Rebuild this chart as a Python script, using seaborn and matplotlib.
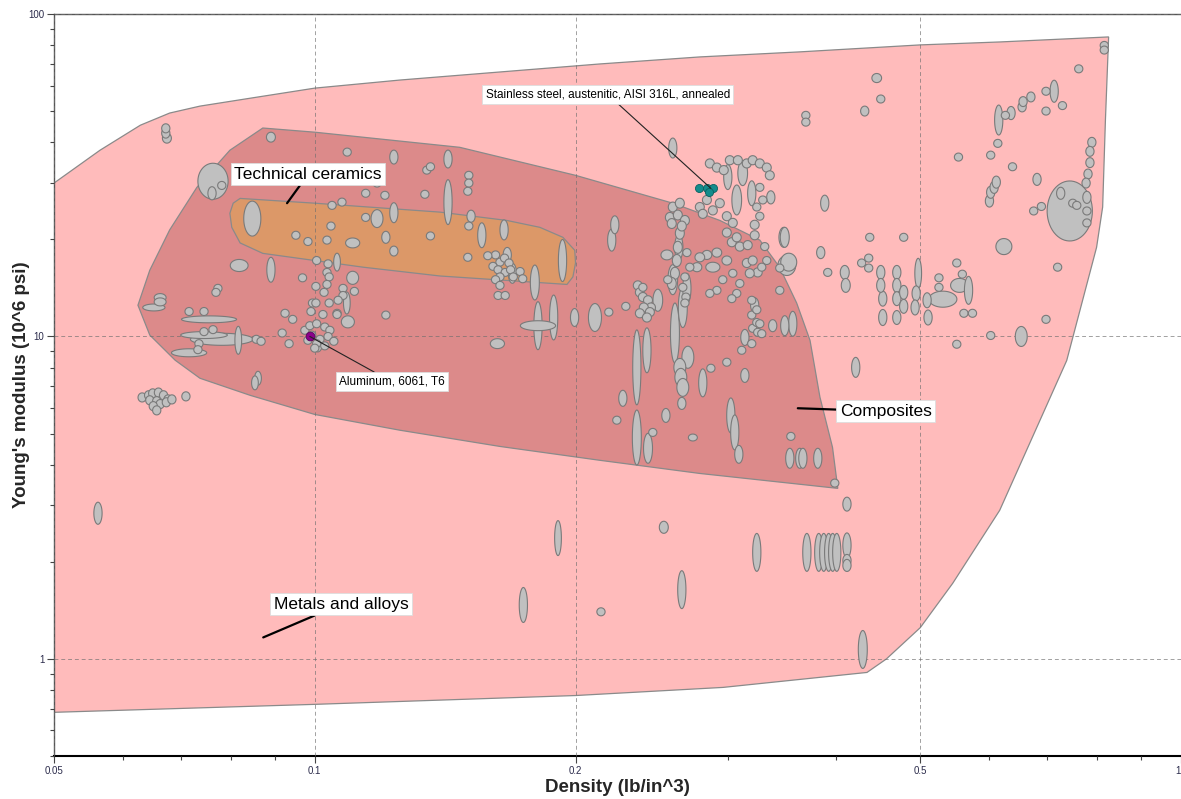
import numpy as np
import matplotlib
matplotlib.use("Agg")
import matplotlib.pyplot as plt
import seaborn as sns
from matplotlib.ticker import FixedLocator, FixedFormatter, LogLocator, NullFormatter

# ==== envelopes: (density lb/in^3, Young's modulus 10^6 psi) ====
metals_envelope = [
    (0.05, 29.9), (0.0565, 37.8), (0.0629, 45.2), (0.068, 49.3), (0.0737, 51.8),
    (0.0842, 54.8), (0.1, 58.9), (0.1254, 62.4), (0.1636, 66.1), (0.2134, 70.0),
    (0.2783, 73.6), (0.363, 76.3), (0.5, 80.2), (0.6176, 81.9), (0.825, 84.9),
    (0.818, 46.9), (0.812, 25.2), (0.799, 18.9), (0.738, 8.42), (0.6176, 2.89),
    (0.545, 1.715), (0.5, 1.25), (0.457, 1.0), (0.434, 0.908), (0.296, 0.816),
    (0.2, 0.77), (0.1, 0.723), (0.05, 0.683),
]
composites_envelope = [
    (0.0625, 12.5), (0.0645, 16.05), (0.068, 21.4), (0.0731, 29.0), (0.0798, 37.8),
    (0.0871, 44.3), (0.1, 43.0), (0.147, 38.6), (0.2, 31.6), (0.259, 25.9),
    (0.2935, 22.9), (0.3264, 19.9), (0.344, 16.4), (0.36, 12.7), (0.373, 9.73),
    (0.383, 6.48), (0.396, 4.53), (0.4016, 3.38), (0.2783, 3.76), (0.2134, 4.13),
    (0.1636, 4.56), (0.1254, 5.12), (0.1, 5.73), (0.0842, 6.57), (0.0737, 7.42),
    (0.069, 8.44), (0.0645, 10.1),
]
ceramics_envelope = [
    (0.082, 26.8), (0.1, 25.9), (0.1395, 24.3), (0.1666, 22.9), (0.1819, 21.8),
    (0.1934, 20.3), (0.1996, 18.5), (0.2, 16.9), (0.1986, 15.3), (0.1955, 14.5),
    (0.1395, 15.4), (0.1137, 16.4), (0.0871, 18.1), (0.082, 19.5), (0.0802, 21.8),
    (0.0798, 24.1), (0.0805, 25.9),
]

# ==== materials: (density, modulus, density spread %, modulus spread %) ====
tech_ceramics = [
    (0.0673, 44.2, 1.1, 3.3), (0.0673, 42.7, 1.1, 3.6), (0.0675, 41.2, 1.2, 3.6),
    (0.0763, 30.3, 4.1, 13.7), (0.0761, 27.8, 1.1, 4.8), (0.0781, 29.4, 1.1, 2.9),
    (0.0847, 23.2, 2.3, 13.3), (0.089, 41.5, 1.2, 3.6), (0.109, 37.3, 1.1, 2.9),
    (0.1234, 36.0, 1.1, 5.1), (0.1425, 35.5, 1.1, 6.6), (0.1347, 32.8, 1.1, 2.9),
    (0.136, 33.6, 1.1, 2.9), (0.118, 29.9, 1.1, 2.9), (0.1425, 26.1, 1.1, 17.4),
    (0.1145, 27.8, 1.1, 2.9), (0.1205, 27.4, 1.1, 2.9), (0.134, 27.6, 1.1, 2.9),
    (0.1075, 26.1, 1.1, 2.9), (0.1047, 25.5, 1.1, 2.9), (0.1234, 24.2, 1.1, 7.4),
    (0.118, 23.2, 1.6, 6.6), (0.1145, 23.4, 1.1, 2.9), (0.1044, 22.0, 1.1, 2.9),
    (0.0951, 20.6, 1.1, 2.9), (0.0982, 19.7, 1.1, 2.9), (0.1033, 19.9, 1.1, 2.9),
    (0.1106, 19.5, 1.9, 3.6), (0.1208, 20.3, 1.1, 4.4), (0.1234, 18.4, 1.1, 3.6),
    (0.136, 20.5, 1.1, 2.9), (0.1506, 31.6, 1.1, 2.9), (0.1506, 29.9, 1.1, 2.9),
    (0.1502, 28.2, 1.1, 2.9), (0.1515, 23.6, 1.1, 4.4), (0.1506, 22.0, 1.1, 2.9),
    (0.1559, 20.6, 1.1, 9.3), (0.1654, 21.4, 1.1, 7.4), (0.1502, 17.6, 1.1, 2.9),
    (0.1932, 17.2, 1.1, 16.2), (0.0818, 16.6, 2.4, 4.4), (0.089, 16.1, 1.1, 9.3),
]
glasses = [
    (0.1617, 17.9, 1.1, 2.9), (0.1636, 17.0, 1.1, 2.9), (0.1656, 17.5, 1.1, 2.9),
    (0.1676, 16.9, 1.1, 2.9), (0.1606, 16.5, 1.1, 2.9), (0.1628, 16.1, 1.1, 2.9),
    (0.1659, 15.8, 1.1, 2.9), (0.1683, 16.1, 1.1, 2.9), (0.1636, 15.3, 1.1, 2.9),
    (0.1695, 15.3, 1.1, 2.9), (0.1617, 15.0, 1.1, 2.9), (0.1584, 17.8, 1.1, 2.9),
    (0.1668, 17.9, 1.1, 5.5), (0.1691, 15.7, 1.1, 7.4), (0.1726, 15.9, 1.1, 2.9),
    (0.1738, 15.1, 1.1, 2.9), (0.1795, 14.7, 1.2, 13.3), (0.1636, 14.4, 1.1, 2.9),
    (0.1628, 13.4, 1.1, 2.9), (0.1659, 13.4, 1.1, 2.9),
]
aluminum_alloys = [
    (0.1005, 17.2, 1.1, 2.9), (0.1061, 17.0, 0.9, 6.6), (0.1036, 16.8, 1.1, 2.9),
    (0.1033, 15.8, 1.1, 2.9), (0.1039, 15.3, 1.1, 2.9), (0.1033, 14.5, 1.1, 2.9),
    (0.1025, 13.7, 1.1, 2.9), (0.1003, 14.3, 1.1, 2.9), (0.0994, 12.7, 1.1, 2.9),
    (0.1078, 14.1, 1.1, 2.9), (0.1111, 13.8, 1.1, 2.9), (0.1078, 13.4, 1.1, 2.9),
    (0.1064, 12.95, 1.1, 2.9), (0.1039, 12.7, 1.1, 2.9), (0.1061, 11.8, 1.1, 2.9),
    (0.1089, 12.7, 0.9, 8.2), (0.1106, 15.2, 1.6, 4.8), (0.0968, 15.2, 1.1, 2.9),
    (0.0974, 10.45, 1.1, 2.9), (0.0987, 10.8, 1.1, 2.9), (0.1005, 10.95, 1.1, 2.9),
    (0.1027, 10.7, 1.1, 2.9), (0.1041, 10.45, 1.1, 2.9), (0.0992, 10.1, 1.1, 2.9),
    (0.1014, 9.8, 1.1, 2.9), (0.1036, 10.0, 1.1, 2.9), (0.1052, 9.66, 1.1, 2.9),
    (0.1005, 9.5, 1.1, 2.9), (0.0982, 9.73, 1.1, 2.9), (0.1027, 9.35, 1.1, 2.9),
    (0.1, 9.2, 1.1, 2.9), (0.1008, 9.35, 1.1, 4.4), (0.1092, 11.1, 1.75, 4.4),
    (0.1061, 11.7, 1.1, 2.9), (0.1022, 11.7, 1.1, 2.9), (0.099, 11.95, 1.1, 2.9),
    (0.1003, 12.7, 1.1, 2.9), (0.1208, 11.65, 1.1, 2.9), (0.0924, 11.8, 1.1, 2.9),
    (0.0943, 11.3, 1.1, 2.9), (0.0917, 10.25, 1.1, 2.9), (0.0934, 9.5, 1.1, 2.9),
]
light_alloys = [
    (0.0773, 14.1, 1.1, 2.9), (0.0769, 13.7, 1.1, 2.9), (0.0663, 13.2, 1.6, 2.9),
    (0.0663, 12.8, 1.6, 2.9), (0.0652, 12.3, 3.0, 2.5), (0.0716, 11.95, 1.1, 2.9),
    (0.0745, 11.95, 1.1, 2.9), (0.0755, 11.3, 7.6, 2.5), (0.0745, 10.35, 1.1, 2.9),
    (0.0763, 10.5, 1.1, 2.9), (0.0745, 10.1, 6.4, 2.5), (0.0781, 9.8, 8.7, 4.4),
    (0.0816, 9.73, 0.9, 10.5), (0.0856, 9.8, 1.1, 2.9), (0.0867, 9.66, 1.1, 2.9),
    (0.0735, 9.5, 1.1, 2.9), (0.0733, 9.1, 1.1, 2.9), (0.0716, 8.9, 4.8, 2.9),
    (0.086, 7.42, 0.9, 5.1), (0.0853, 7.18, 0.9, 5.1),
]
beryllium_alloys = [
    (0.0632, 6.47, 1.1, 3.3), (0.0643, 6.57, 1.1, 3.3), (0.065, 6.66, 1.1, 3.3),
    (0.066, 6.70, 1.1, 3.3), (0.0669, 6.57, 1.1, 3.3), (0.0677, 6.38, 1.1, 3.3),
    (0.0645, 6.34, 1.1, 3.3), (0.0657, 6.30, 1.1, 3.3), (0.0663, 6.17, 1.1, 3.3),
    (0.0651, 6.08, 1.1, 3.3), (0.0657, 5.90, 1.1, 3.3), (0.0674, 6.25, 1.1, 3.3),
    (0.0684, 6.38, 1.1, 3.3), (0.071, 6.52, 1.1, 3.3),
]
low_modulus = [
    (0.0562, 2.83, 1.1, 8.2), (0.1909, 2.37, 0.9, 13.3), (0.1741, 1.47, 1.1, 13.3),
    (0.214, 1.40, 1.1, 2.9), (0.2529, 2.56, 1.2, 4.4), (0.3238, 2.14, 1.1, 14.5),
    (0.3699, 2.14, 1.1, 14.5), (0.3818, 2.14, 1.1, 14.5), (0.3869, 2.14, 1.1, 14.5),
    (0.392, 2.14, 1.1, 14.5), (0.3962, 2.14, 1.1, 14.5), (0.4005, 2.14, 1.1, 14.5),
    (0.4115, 2.25, 1.1, 9.3), (0.4115, 2.02, 1.1, 4.4), (0.4115, 1.95, 1.1, 4.4),
    (0.2653, 1.64, 1.1, 14.5), (0.4292, 1.07, 1.2, 14.5), (0.4115, 3.02, 1.1, 5.1),
]
mid_composites = [
    (0.181, 10.8, 4.8, 3.6), (0.181, 10.8, 1.1, 18.7), (0.1887, 11.45, 1.1, 17.4),
    (0.1995, 11.45, 1.1, 6.6), (0.2106, 11.45, 1.75, 10.5), (0.2185, 11.9, 1.1, 2.9),
    (0.1625, 9.5, 1.9, 3.6), (0.222, 22.2, 1.1, 6.6), (0.2202, 19.9, 1.1, 8.2),
    (0.2286, 12.4, 1.1, 2.9), (0.2354, 8.02, 1.1, 30.7), (0.2354, 4.86, 1.2, 21.7),
    (0.2418, 9.06, 1.1, 17.4), (0.2425, 4.5, 1.2, 11.3), (0.2268, 6.43, 1.1, 5.9),
    (0.2232, 5.5, 1.1, 2.9), (0.236, 14.4, 1.2, 3.3), (0.2373, 13.7, 1.2, 3.3),
    (0.2392, 13.25, 1.2, 3.3), (0.2425, 12.95, 1.2, 3.3), (0.2444, 12.3, 1.2, 3.3),
    (0.2398, 12.3, 1.2, 3.3), (0.2437, 11.9, 1.2, 3.3), (0.2373, 11.8, 1.2, 3.3),
    (0.2418, 11.45, 1.2, 3.3), (0.2489, 12.95, 1.3, 8.2), (0.259, 15.0, 1.3, 11.3),
    (0.2605, 10.25, 1.2, 23.9), (0.2632, 18.9, 1.1, 9.3), (0.266, 12.3, 1.2, 15.4),
    (0.255, 17.9, 1.6, 3.6), (0.2689, 14.1, 1.1, 11.3), (0.2682, 13.25, 1.1, 2.9),
    (0.2675, 12.7, 1.1, 2.9), (0.2696, 8.62, 1.6, 8.2), (0.2639, 8.02, 1.6, 6.6),
    (0.2646, 7.47, 1.6, 6.6), (0.266, 6.95, 1.6, 6.6), (0.2653, 6.2, 1.1, 4.4),
    (0.2805, 7.18, 1.1, 10.5), (0.2866, 7.97, 1.1, 2.9), (0.2543, 5.69, 1.1, 5.1),
    (0.2732, 4.86, 1.2, 2.5), (0.2456, 5.04, 1.1, 2.9), (0.3022, 5.69, 1.1, 13.3),
    (0.3054, 5.04, 1.1, 13.3), (0.3087, 4.31, 1.1, 6.6), (0.299, 8.32, 1.1, 2.9),
    (0.3137, 7.57, 1.1, 5.1), (0.3111, 9.06, 1.1, 2.9), (0.3195, 9.5, 1.1, 2.9),
    (0.3137, 9.93, 1.1, 5.9), (0.3203, 10.6, 1.1, 2.9), (0.3246, 10.3, 1.1, 2.9),
    (0.3281, 10.2, 1.1, 2.9), (0.3238, 11.05, 1.1, 2.9), (0.322, 12.5, 1.1, 5.5),
    (0.3195, 11.65, 1.1, 2.9), (0.3378, 10.8, 1.1, 4.4), (0.3488, 10.8, 1.1, 7.4),
    (0.3563, 10.95, 1.1, 9.3), (0.3442, 13.9, 1.1, 2.9), (0.3545, 4.9, 1.1, 2.9),
    (0.3535, 4.19, 1.1, 7.4), (0.363, 4.19, 1.1, 7.4), (0.366, 4.19, 1.1, 7.4),
    (0.3808, 4.19, 1.1, 7.4), (0.3984, 3.51, 1.1, 2.9), (0.4212, 8.02, 1.1, 7.4),
]
steels = [
    (0.259, 38.4, 1.1, 7.4), (0.2858, 34.4, 1.2, 3.3), (0.2912, 33.4, 1.2, 3.3),
    (0.2966, 32.8, 1.2, 3.3), (0.3014, 35.2, 1.2, 3.3), (0.3079, 35.2, 1.2, 3.3),
    (0.3153, 34.4, 1.2, 3.3), (0.3203, 35.2, 1.2, 3.3), (0.3264, 34.4, 1.2, 3.3),
    (0.3325, 33.4, 1.2, 3.3), (0.3352, 31.6, 1.2, 3.3), (0.2998, 31.2, 1.1, 9.3),
    (0.3119, 32.1, 1.3, 9.3), (0.307, 26.5, 1.3, 11.3), (0.3195, 27.8, 1.1, 9.3),
    (0.2836, 26.5, 1.2, 3.3), (0.2783, 25.2, 1.2, 3.3), (0.2805, 24.0, 1.2, 3.3),
    (0.2881, 24.6, 1.2, 3.3), (0.2935, 25.9, 1.2, 3.3), (0.259, 25.2, 1.2, 3.6),
    (0.2639, 25.9, 1.2, 3.6), (0.257, 23.4, 1.2, 3.6), (0.2625, 23.8, 1.2, 3.6),
    (0.2675, 22.9, 1.2, 3.6), (0.2583, 22.4, 1.2, 3.6), (0.2653, 22.0, 1.2, 3.6),
    (0.3264, 29.0, 1.1, 2.9), (0.329, 26.5, 1.1, 2.9), (0.3238, 25.2, 1.1, 2.9),
    (0.3264, 23.6, 1.1, 2.9), (0.3361, 27.0, 1.1, 4.8), (0.299, 23.6, 1.2, 3.3),
    (0.3038, 22.5, 1.2, 3.3), (0.299, 21.0, 1.2, 3.3), (0.303, 19.6, 1.2, 3.3),
    (0.307, 20.3, 1.2, 3.3), (0.3095, 19.0, 1.2, 3.3), (0.3161, 19.2, 1.2, 3.3),
    (0.322, 20.6, 1.2, 3.3), (0.322, 22.2, 1.2, 3.3), (0.3153, 16.9, 1.2, 3.3),
    (0.3203, 17.2, 1.2, 3.3), (0.3246, 15.8, 1.2, 3.3), (0.3178, 15.7, 1.2, 3.3),
    (0.299, 17.2, 1.3, 3.3), (0.2912, 18.2, 1.3, 3.3), (0.2836, 17.9, 1.3, 3.3),
    (0.2783, 17.6, 1.3, 3.3), (0.2762, 16.4, 1.3, 3.3), (0.2639, 20.9, 1.2, 4.4),
    (0.2625, 18.9, 1.2, 4.4), (0.2618, 17.2, 1.2, 4.4), (0.2605, 15.7, 1.2, 4.4),
    (0.2583, 14.6, 1.2, 4.4), (0.2689, 18.2, 1.1, 2.9), (0.271, 16.4, 1.1, 2.9),
    (0.2675, 15.3, 1.1, 2.9), (0.266, 14.2, 1.1, 2.9), (0.2556, 15.0, 1.1, 2.9),
    (0.2392, 14.2, 1.1, 2.9), (0.3038, 15.7, 1.1, 2.9), (0.2958, 15.0, 1.1, 2.9),
    (0.2912, 13.9, 1.1, 2.9), (0.2858, 13.6, 1.1, 2.9), (0.3095, 14.6, 1.1, 2.9),
    (0.307, 13.6, 1.1, 2.9), (0.303, 13.1, 1.1, 2.9), (0.2881, 16.4, 1.9, 3.6),
    (0.3195, 12.95, 1.1, 2.9), (0.3238, 12.1, 1.1, 2.9), (0.3264, 10.95, 1.1, 2.9),
    (0.3479, 20.3, 1.3, 7.4), (0.3525, 17.0, 2.15, 6.6), (0.3442, 16.3, 1.1, 2.9),
    (0.3307, 19.0, 1.1, 2.9), (0.3325, 17.2, 1.1, 2.9), (0.3281, 16.4, 1.1, 2.9),
]
heavy_metals = [
    (0.4454, 63.3, 1.3, 3.3), (0.4502, 54.5, 1.1, 2.9), (0.4314, 50.0, 1.1, 3.6),
    (0.3689, 48.5, 1.1, 2.9), (0.3689, 46.2, 1.1, 2.9), (0.3879, 25.9, 1.1, 5.9),
    (0.3488, 20.3, 1.2, 7.4), (0.3507, 16.6, 2.4, 7.4), (0.3838, 18.2, 1.1, 4.4),
    (0.391, 15.8, 1.1, 2.9), (0.4091, 15.8, 1.2, 5.1), (0.4102, 14.4, 1.2, 5.1),
    (0.4279, 16.9, 1.1, 2.9), (0.436, 17.5, 1.1, 2.9), (0.436, 16.3, 1.1, 2.9),
    (0.4372, 20.3, 1.1, 2.9), (0.4785, 20.3, 1.1, 2.9), (0.4502, 15.8, 1.1, 5.1),
    (0.4502, 14.4, 1.1, 5.1), (0.4526, 13.1, 1.1, 5.5), (0.4526, 11.45, 1.1, 5.9),
    (0.4698, 15.8, 1.1, 5.1), (0.4698, 14.4, 1.1, 5.1), (0.4698, 13.1, 1.1, 5.1),
    (0.4698, 11.45, 1.1, 5.1), (0.4785, 13.7, 1.1, 5.1), (0.4785, 12.4, 1.1, 5.1),
    (0.4973, 15.7, 0.9, 11.3), (0.4946, 13.6, 1.1, 5.5), (0.4932, 12.3, 1.1, 5.5),
    (0.5092, 12.95, 1.1, 5.5), (0.5105, 11.45, 1.1, 5.5), (0.531, 13.05, 3.8, 5.9),
    (0.5255, 15.2, 1.1, 2.9), (0.5255, 14.2, 1.1, 2.9), (0.555, 14.4, 2.4, 5.1),
    (0.5685, 13.9, 1.1, 10.5), (0.5615, 11.8, 1.1, 2.9), (0.5745, 11.8, 1.1, 2.9),
    (0.551, 16.9, 1.1, 2.9), (0.5592, 15.6, 1.1, 2.9), (0.551, 9.46, 1.1, 2.9),
    (0.603, 10.07, 1.1, 2.9), (0.654, 10.0, 1.6, 7.4), (0.6245, 19.0, 2.15, 5.9),
    (0.6985, 11.3, 1.1, 2.9), (0.7204, 16.4, 1.1, 2.9), (0.744, 24.5, 6.2, 23.9),
    (0.7263, 27.8, 1.1, 4.4), (0.75, 25.9, 1.1, 2.9), (0.758, 25.5, 1.1, 2.9),
    (0.7787, 27.0, 1.1, 4.4), (0.7787, 24.5, 1.1, 2.9), (0.7787, 22.5, 1.1, 2.9),
    (0.789, 40.0, 1.1, 3.6), (0.785, 37.5, 1.1, 3.6), (0.785, 34.6, 1.1, 3.6),
    (0.781, 31.9, 1.1, 3.6), (0.777, 29.9, 1.1, 3.6), (0.676, 24.5, 1.1, 2.9),
    (0.69, 25.3, 1.1, 2.9), (0.601, 26.3, 1.1, 4.4), (0.603, 28.0, 1.1, 4.4),
    (0.6085, 29.0, 1.1, 4.4), (0.612, 30.1, 1.1, 4.4), (0.682, 30.7, 1.1, 4.4),
    (0.639, 33.6, 1.1, 2.9), (0.603, 36.5, 1.1, 2.9), (0.5535, 36.0, 1.1, 2.9),
    (0.616, 46.9, 1.1, 11.3), (0.6145, 39.7, 1.1, 2.9), (0.627, 48.5, 1.1, 2.9),
    (0.6365, 49.3, 1.1, 4.8), (0.6555, 51.5, 1.1, 3.6), (0.6572, 53.5, 1.1, 3.6),
    (0.671, 55.3, 1.1, 3.6), (0.6985, 57.6, 1.1, 2.9), (0.7138, 57.6, 1.1, 8.2),
    (0.6985, 50.0, 1.1, 2.9), (0.7297, 52.0, 1.1, 2.9), (0.762, 67.6, 1.1, 2.9),
    (0.8155, 79.9, 1.1, 2.9), (0.8155, 77.3, 1.1, 2.9),
]

# highlighted records
al_6061_rho = [0.0987]
al_6061_E = [10.0]
ss_316l_rho = [0.2776, 0.2836, 0.2881, 0.2851]
ss_316l_E = [28.8, 28.8, 28.8, 28.0]

# label texts and where they sit
envelope_labels = [
    ("Technical ceramics", (0.0929, 25.9), (0.0982, 31.8)),
    ("Composites", (0.3611, 5.99), (0.4563, 5.86)),
    ("Metals and alloys", (0.0872, 1.166), (0.1072, 1.477)),
]
record_labels = [
    ("Aluminum, 6061, T6", (0.0987, 10.0), (0.1228, 7.23)),
    ("Stainless steel, austenitic, AISI 316L, annealed", (0.2866, 28.8), (0.2179, 56.3)),
]

sns.set_theme(style="white")
plt.rcParams["font.family"] = ["Liberation Sans", "DejaVu Sans"]

fig = plt.figure(figsize=(11.81, 7.99), dpi=100)
ax = fig.add_axes([54 / 1181, 43 / 799, 1 - 54 / 1181, 742 / 799])
ax.set_xscale("log")
ax.set_yscale("log")
ax.set_xlim(0.05, 1.0)
ax.set_ylim(0.5, 100)


def draw_envelope(pts, fc, z):
    r, e = zip(*pts)
    ax.fill(r, e, facecolor=fc, edgecolor="#8a8a8a", lw=0.9, zorder=z)


def draw_bubble(rho, E, pr, pe):
    t = np.linspace(0, 2 * np.pi, 60)
    lx = np.log10(rho) + np.log10(1 + pr / 100) * np.cos(t)
    ly = np.log10(E) + np.log10(1 + pe / 100) * np.sin(t)
    ax.fill(10 ** lx, 10 ** ly, facecolor="#c0c0c0", edgecolor="#7a7a7a", lw=0.8, zorder=3)


draw_envelope(metals_envelope, "#ffbbbb", 1.0)
draw_envelope(composites_envelope, "#dc8a8a", 1.1)
draw_envelope(ceramics_envelope, "#dc9868", 1.2)

materials = (tech_ceramics + glasses + aluminum_alloys + light_alloys + beryllium_alloys
             + low_modulus + mid_composites + steels + heavy_metals)
# big bubbles first so the small ones stay visible
materials = sorted(materials, key=lambda m: -np.log1p(m[2] / 100) * np.log1p(m[3] / 100))
for m in materials:
    draw_bubble(*m)

sns.scatterplot(x=al_6061_rho, y=al_6061_E, color="#8b008b", s=40, edgecolor="#5a005a",
                linewidth=0.6, zorder=4, ax=ax, legend=False)
sns.scatterplot(x=ss_316l_rho, y=ss_316l_E, color="#138c8c", s=34, edgecolor="#0b6060",
                linewidth=0.6, zorder=4, ax=ax, legend=False)

# grid
ax.set_axisbelow(False)
ax.grid(True, which="major", ls=(0, (4, 3)), color="#6e6e6e", lw=0.7, alpha=0.65)

for txt, pt, pos in envelope_labels:
    ax.annotate(txt, xy=pt, xytext=pos, textcoords="data", ha="center", va="center",
                fontsize=12.5, color="black", zorder=6,
                bbox=dict(boxstyle="square,pad=0.2", fc="white", ec="#dddddd", lw=0.6),
                arrowprops=dict(arrowstyle="-", color="black", lw=1.6, shrinkA=0, shrinkB=0))
for txt, pt, pos in record_labels:
    ax.annotate(txt, xy=pt, xytext=pos, textcoords="data", ha="center", va="center",
                fontsize=8.5, color="black", zorder=6,
                bbox=dict(boxstyle="square,pad=0.3", fc="white", ec="#dddddd", lw=0.6),
                arrowprops=dict(arrowstyle="-", color="#222222", lw=0.8, shrinkA=0, shrinkB=0))

# axes and ticks
ax.xaxis.set_major_locator(FixedLocator([0.05, 0.1, 0.2, 0.5, 1.0]))
ax.xaxis.set_major_formatter(FixedFormatter(["0.05", "0.1", "0.2", "0.5", "1"]))
ax.yaxis.set_major_locator(FixedLocator([1, 10, 100]))
ax.yaxis.set_major_formatter(FixedFormatter(["1", "10", "100"]))
ax.xaxis.set_minor_locator(LogLocator(base=10, subs=np.arange(2, 10)))
ax.yaxis.set_minor_locator(LogLocator(base=10, subs=np.arange(2, 10)))
ax.xaxis.set_minor_formatter(NullFormatter())
ax.yaxis.set_minor_formatter(NullFormatter())
ax.tick_params(which="both", bottom=True, left=True, top=False, right=False,
               direction="out", color="#444444", width=0.8)
ax.tick_params(which="major", length=5, labelsize=7, labelcolor="#2b2b4b", pad=2)
ax.tick_params(which="minor", length=3)
# last density label sits on the figure edge: keep it inside
ax.get_xticklabels()[-1].set_horizontalalignment("right")

for side in ["left", "top"]:
    ax.spines[side].set_color("#555555")
    ax.spines[side].set_linewidth(1.0)
ax.spines["bottom"].set_color("black")
ax.spines["bottom"].set_linewidth(1.5)
ax.spines["right"].set_visible(False)

ax.set_xlabel("Density (lb/in^3)", fontsize=13.5, fontweight="bold")
ax.set_ylabel("Young's modulus (10^6 psi)", fontsize=13.5, fontweight="bold")
ax.xaxis.set_label_coords(0.5, -31 / 742)
ax.yaxis.set_label_coords(-32 / 1127, 0.5)
ax.xaxis.label.set_verticalalignment("center")
ax.yaxis.label.set_verticalalignment("center")

fig.savefig("out.png", dpi=100)
